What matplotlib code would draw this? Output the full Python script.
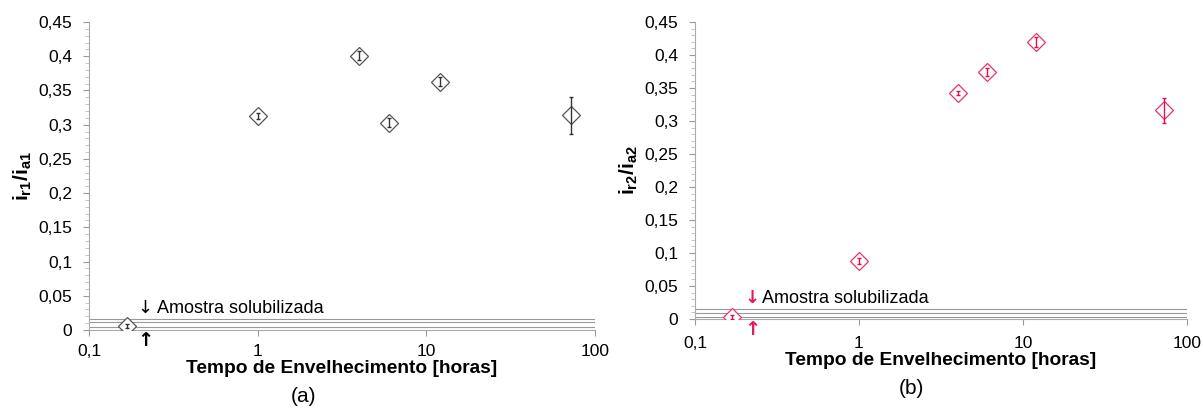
import matplotlib
matplotlib.use("Agg")
import matplotlib.pyplot as plt
from matplotlib.ticker import FixedLocator, MultipleLocator, FuncFormatter, NullFormatter

plt.rcParams['font.family'] = ['Liberation Sans', 'DejaVu Sans']
plt.rcParams['mathtext.fontset'] = 'custom'
plt.rcParams['mathtext.bf'] = 'Liberation Sans:bold'
plt.rcParams['mathtext.rm'] = 'Liberation Sans'

# aging time [hours]
tempo = [0.167, 1, 4, 6, 12, 72]

# panel (a): i_r1 / i_a1
ratio_a = [0.006, 0.313, 0.401, 0.303, 0.363, 0.314]
err_a = [0.003, 0.004, 0.006, 0.007, 0.006, 0.027]
band_a = [0.016, 0.011, 0.004]

# panel (b): i_r2 / i_a2
ratio_b = [0.0025, 0.088, 0.343, 0.374, 0.420, 0.316]
err_b = [0.003, 0.004, 0.003, 0.006, 0.008, 0.019]
band_b = [0.015, 0.009, 0.003]

xticks = [0.1, 1, 10, 100]
xtick_labels = ['0,1', '1', '10', '100']

fig = plt.figure(figsize=(12.03, 4.12), dpi=100)


def comma(v, pos):
    s = ('%.2f' % v).rstrip('0').rstrip('.')
    return s.replace('.', ',')


def setup(ax, ylabel, xpad):
    ax.set_xscale('log')
    ax.set_xlim(0.1, 100)
    ax.set_ylim(0, 0.45)
    ax.xaxis.set_major_locator(FixedLocator(xticks))
    ax.set_xticklabels(xtick_labels)
    ax.xaxis.set_minor_formatter(NullFormatter())
    ax.tick_params(axis='x', which='minor', length=0)
    ax.yaxis.set_major_locator(MultipleLocator(0.05))
    ax.yaxis.set_minor_locator(MultipleLocator(0.01))
    ax.yaxis.set_major_formatter(FuncFormatter(comma))
    ax.tick_params(axis='both', which='major', labelsize=12.5, color='#999999',
                   length=4)
    ax.tick_params(axis='y', which='major', pad=8)
    ax.tick_params(axis='x', which='major', pad=xpad)
    ax.tick_params(axis='y', which='minor', color='#bbbbbb', length=3)
    for s in ['top', 'right']:
        ax.spines[s].set_visible(False)
    for s in ['left', 'bottom']:
        ax.spines[s].set_color('#aaaaaa')
        ax.spines[s].set_linewidth(0.8)
    ax.set_xlabel('Tempo de Envelhecimento [horas]', fontsize=13.8,
                  fontweight='bold', labelpad=1)
    ax.set_ylabel(ylabel, fontsize=15, labelpad=3)


def draw(ax, y, err, band, mcol, ecol):
    for b in band:
        ax.axhline(b, color='#999999', lw=0.8, zorder=1)
    ax.plot(tempo, y, 'D', mfc='white', mec=mcol, ms=9.5, mew=0.9, zorder=3)
    ax.errorbar(tempo, y, yerr=err, fmt='none', ecolor=ecol, elinewidth=1,
                capsize=1.5, zorder=4)


ax1 = fig.add_axes([0.074, 0.199, 0.4206, 0.7476])
setup(ax1, r'$\mathbf{i_{r1}/i_{a1}}$', 6)
draw(ax1, ratio_a, err_a, band_a, '#555555', '#333333')
ax1.text(0.215, 0.019, u'\u2193', fontsize=13, va='bottom', ha='center',
         family='DejaVu Sans')
ax1.text(0.253, 0.019, 'Amostra solubilizada', fontsize=13,
         va='bottom', ha='left')
ax1.text(0.215, -0.001, u'\u2191', fontsize=14, va='top', ha='center',
         family='DejaVu Sans', fontweight='bold')

ax2 = fig.add_axes([0.5777, 0.2257, 0.409, 0.7209])
setup(ax2, r'$\mathbf{i_{r2}/i_{a2}}$', 8)
draw(ax2, ratio_b, err_b, band_b, '#e8336a', '#e01050')
ax2.text(0.223, 0.018, u'\u2193', fontsize=13, va='bottom', ha='center',
         color='#e8185a', family='DejaVu Sans', fontweight='bold')
ax2.text(0.256, 0.018, 'Amostra solubilizada', fontsize=13,
         va='bottom', ha='left')
ax2.text(0.223, -0.001, u'\u2191', fontsize=14, va='top', ha='center',
         color='#e8185a', family='DejaVu Sans', fontweight='bold')

fig.text(303 / 1203, 1 - 397 / 412, '(a)', fontsize=15, ha='center', va='center')
fig.text(911 / 1203, 1 - 388 / 412, '(b)', fontsize=15, ha='center', va='center')

fig.savefig('out.png', dpi=100)
